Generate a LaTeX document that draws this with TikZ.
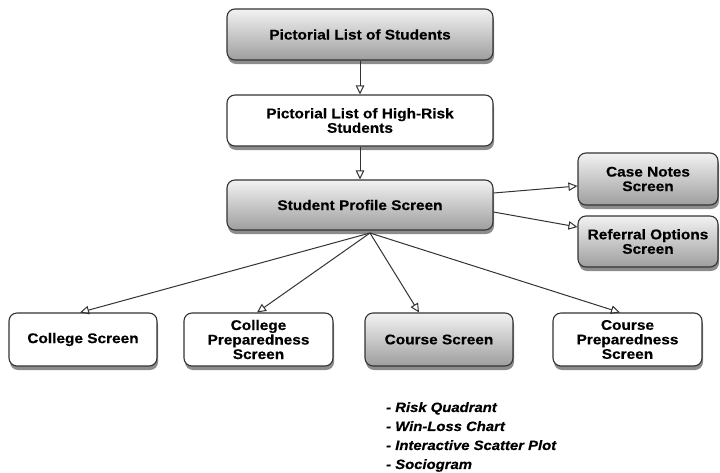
\documentclass[tikz,border=0pt]{standalone}
\usepackage{fontspec}
\setmainfont{Liberation Sans}[FakeStretch=1.1, BoldFeatures={FakeBold=0.4}, BoldItalicFeatures={FakeBold=0.4}]
\usetikzlibrary{arrows.meta,shadows,calc}
\tikzset{
  box/.style={draw=black!80, line width=1.1pt, rounded corners=8pt,
    align=center, inner sep=2pt,
    font=\fontsize{14}{14.5}\selectfont\bfseries,
    drop shadow={shadow xshift=1pt, shadow yshift=-4pt, opacity=0.45, fill=black}},
  graybox/.style={box, top color=black!5, bottom color=black!38},
  whitebox/.style={box, fill=white},
  conn/.style={draw=black!80, line width=1pt,
    -{Triangle[open, length=9pt, width=8.5pt]}},
}
\begin{document}
\begin{tikzpicture}[x=1pt,y=-1pt]
\useasboundingbox (0,0) rectangle (720,472);
\fill[white] (0,0) rectangle (720,472);

\node[graybox, minimum width=266, minimum height=51] (pls) at (360,34.5) {Pictorial List of Students};
\node[whitebox, minimum width=266, minimum height=51] (plh) at (360,120.5) {Pictorial List of High-Risk\\Students};
\node[graybox, minimum width=266, minimum height=50] (sps) at (360,205) {Student Profile Screen};

\node[graybox, minimum width=140, minimum height=52] (cns) at (648,179) {Case Notes\\Screen};
\node[graybox, minimum width=140, minimum height=51] (ros) at (648,241.5) {Referral Options\\Screen};

\node[whitebox, minimum width=148, minimum height=53] (cs) at (83,339.5) {College Screen};
\node[whitebox, minimum width=149, minimum height=53] (cps) at (258.5,339.5) {College\\Preparedness\\Screen};
\node[graybox, minimum width=148, minimum height=53] (crs) at (439,339.5) {Course Screen};
\node[whitebox, minimum width=149, minimum height=53] (crps) at (627.5,339.5) {Course\\Preparedness\\Screen};

\coordinate (hub) at (370,233);

\draw[conn] (pls.south) -- (plh.north);
\draw[conn] (plh.south) -- (sps.north);
\draw[conn] ($(sps.east)+(0,-12)$) -- ($(cns.west)+(0,7)$);
\draw[conn] ($(sps.east)+(0,7)$) -- ($(ros.west)+(0,-14.5)$);
\draw[conn] (hub) -- ($(cs.north)+(-3,0)$);
\draw[conn] (hub) -- ($(cps.north)+(-1.5,0)$);
\draw[conn] (hub) -- ($(crs.north)+(-20,0)$);
\draw[conn] (hub) -- ($(crps.north)+(-7.5,0)$);

\node[anchor=north west, align=left, inner sep=0pt,
  font=\fontsize{13.5}{19}\selectfont\bfseries\itshape] (list) at (386,402)
  {- Risk Quadrant\\- Win-Loss Chart\\- Interactive Scatter Plot\\- Sociogram};
\end{tikzpicture}
\end{document}
